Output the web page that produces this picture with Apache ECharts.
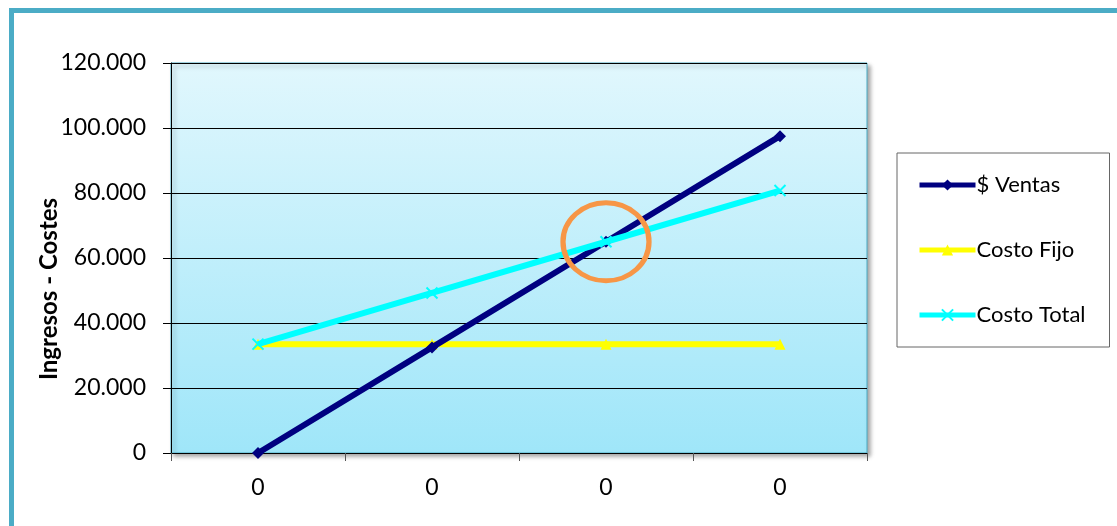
<!DOCTYPE html>
<html><head><meta charset="utf-8">
<script src="https://cdn.jsdelivr.net/npm/echarts@6/dist/echarts.min.js"></script>
<style>html,body{margin:0;padding:0;background:#fff}#c{width:1117px;height:526px}</style>
</head><body><div id="c"></div>
<script>
const categories = ['0', '0', '0', '0'];
const ventas = [0, 32500, 65000, 97500];
const costoFijo = [33500, 33500, 33500, 33500];
const costoTotal = [33500, 49250, 65000, 80750];
const yTicks = [0, 20000, 40000, 60000, 80000, 100000, 120000];
const breakEvenIndex = 2;

const F = 'Lato, "Open Sans", "Noto Sans", sans-serif';
const xPath = 'path://M0,0 L10,10 M10,0 L0,10';
const chart = echarts.init(document.getElementById('c'));
chart.setOption({
  animation: false,
  backgroundColor: '#fff',
  graphic: [{
    type: 'rect', shape: { x: 11.5, y: 10.5, width: 1140, height: 540 },
    style: { fill: 'none', stroke: '#4bacc6', lineWidth: 5 }, z: 100
  }],
  grid: {
    left: 171, top: 63, width: 696, height: 390, show: true,
    borderColor: '#4bacc6', borderWidth: 1,
    backgroundColor: { type: 'linear', x: 0, y: 0, x2: 0, y2: 1,
      colorStops: [{ offset: 0, color: '#e1f7fd' }, { offset: 1, color: '#9fe6f9' }] },
    shadowColor: 'rgba(0,0,0,0.35)', shadowBlur: 4, shadowOffsetX: 3, shadowOffsetY: 3
  },
  legend: {
    orient: 'vertical', left: 897, top: 153,
    padding: [21, 24, 21, 20], itemGap: 43, itemWidth: 56, itemHeight: 14,
    borderColor: '#666', borderWidth: 1, backgroundColor: '#fff',
    textStyle: { fontFamily: F, fontSize: 22, color: '#000', padding: [0, 0, 0, -4] },
    data: [
      { name: '$ Ventas', lineStyle: { width: 5 } },
      { name: 'Costo Fijo', lineStyle: { width: 5 } },
      { name: 'Costo Total', lineStyle: { width: 5 } }
    ]
  },
  xAxis: {
    type: 'category', data: categories, boundaryGap: true,
    axisLine: { lineStyle: { color: '#000', width: 1 } },
    axisTick: { show: true, length: 8, lineStyle: { color: '#555' } },
    axisLabel: { fontFamily: F, fontSize: 23, color: '#000', margin: 23 }
  },
  yAxis: {
    type: 'value', min: yTicks[0], max: yTicks[yTicks.length - 1], interval: 20000,
    name: 'Ingresos - Costes', nameLocation: 'middle', nameGap: 110, nameRotate: 90,
    nameMoveOverlap: false,
    nameTextStyle: { fontFamily: F, fontSize: 24, fontWeight: 'bold', color: '#000',
      padding: [0, 62, 0, 0] },
    axisLine: { show: true, lineStyle: { color: '#000', width: 1 } },
    axisTick: { show: true, length: 8, lineStyle: { color: '#000' } },
    splitLine: { lineStyle: { color: '#000', width: 1 } },
    axisLabel: { fontFamily: F, fontSize: 23, color: '#000', margin: 25,
      formatter: v => v === 0 ? '0' : String(v).replace(/(\d)(?=(\d{3})+$)/g, '$1.') }
  },
  series: [
    { name: '$ Ventas', type: 'line', data: ventas, symbol: 'diamond', symbolSize: 12,
      lineStyle: { color: '#000080', width: 6 }, itemStyle: { color: '#000080' }, z: 3,
      markPoint: { symbol: 'circle', symbolSize: [86, 78], silent: true,
        itemStyle: { color: 'rgba(0,0,0,0)', borderColor: '#f79646', borderWidth: 5 },
        label: { show: false },
        data: [{ coord: [breakEvenIndex, ventas[breakEvenIndex]] }] } },
    { name: 'Costo Fijo', type: 'line', data: costoFijo, symbol: 'triangle', symbolSize: 11,
      lineStyle: { color: '#ffff00', width: 6 }, itemStyle: { color: '#ffff00' }, z: 2 },
    { name: 'Costo Total', type: 'line', data: costoTotal, symbol: xPath, symbolSize: 11,
      lineStyle: { color: '#00ffff', width: 6 },
      itemStyle: { color: '#00ffff', borderColor: '#00ffff', borderWidth: 2 }, z: 4 }
  ]
});
</script></body></html>
